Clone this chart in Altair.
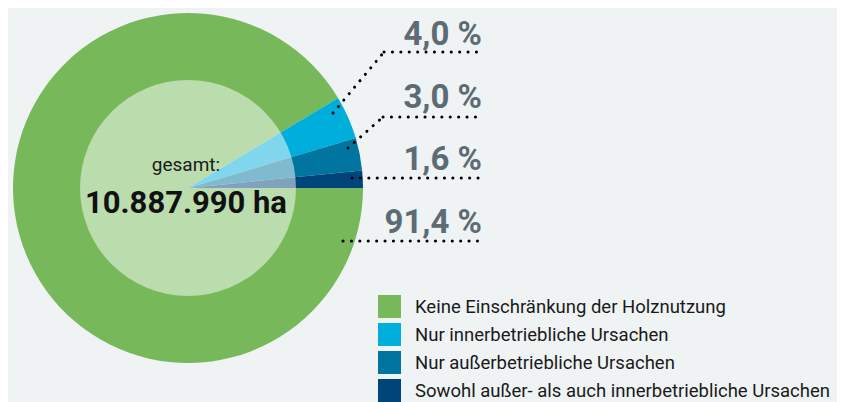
import altair as alt
import pandas as pd
import math

# ---- data ----
categories = [
    "Keine Einschränkung der Holznutzung",
    "Nur innerbetriebliche Ursachen",
    "Nur außerbetriebliche Ursachen",
    "Sowohl außer- als auch innerbetriebliche Ursachen",
]
shares = [91.4, 4.0, 3.0, 1.6]
colors = ["#77b85a", "#00aedb", "#00759f", "#00457a"]
total_label = "10.887.990 ha"
total_caption = "gesamt:"

# ---- layout (chart pixel coordinates) ----
W, H = 829, 394
CX, CY = 180, 180
R_OUT, R_IN = 175, 108
label_x = 474
label_baselines = [225, 37, 100, 162]          # for the shares, in order
# leader segments per share: list of (x, y, x2, y2)
leaders = [
    [(335, 233, 471, 233)],
    [(325, 105, 376, 44), (376, 44, 471, 44)],
    [(340, 140, 375, 109), (375, 109, 471, 109)],
    [(344, 170, 471, 170)],
]

def fmt(v):
    return f"{v:.1f}".replace(".", ",") + " %"

pie_df = pd.DataFrame({"cat": categories, "share": shares, "idx": range(len(shares))})
lab_df = pd.DataFrame({"txt": [fmt(v) for v in shares], "x": [label_x] * 4, "y": label_baselines})
seg_rows = []
for segs in leaders:
    for (a, b, c, d) in segs:
        seg_rows.append({"x": a, "y": b, "x2": c, "y2": d})
seg_df = pd.DataFrame(seg_rows)

xs = alt.Scale(domain=[0, W], range=[0, W])
ys = alt.Scale(domain=[0, H], range=[0, H])

pie = alt.Chart(pie_df).mark_arc(radius=R_OUT).encode(
    theta=alt.Theta("share:Q", stack=True, scale=alt.Scale(range=[math.pi / 2, math.pi / 2 + 2 * math.pi])),
    order=alt.Order("idx:Q"),
    color=alt.Color(
        "cat:N",
        scale=alt.Scale(domain=categories, range=colors),
        legend=alt.Legend(
            orient="none", legendX=370, legendY=287, title=None,
            symbolType="square", symbolSize=529, symbolStrokeWidth=0,
            labelFontSize=18.5, labelFont="Roboto", labelColor="#1a1a1a",
            labelLimit=0, rowPadding=5, labelOffset=14, padding=0,
        ),
    ),
    x=alt.value(CX),
    y=alt.value(CY),
)

inner = alt.Chart(pd.DataFrame({"a": [1]})).mark_arc(
    radius=R_IN, theta=0, theta2=2 * math.pi, color="white", opacity=0.5
).encode(x=alt.value(CX), y=alt.value(CY))

cap_txt = alt.Chart(pd.DataFrame({"t": [total_caption], "y": [163]})).mark_text(
    font="Roboto", color="#1a1a1a", baseline="alphabetic", align="center", fontSize=19
).encode(
    x=alt.value(178),
    y=alt.Y("y:Q", scale=ys, axis=None),
    text="t:N",
)
tot_txt = alt.Chart(pd.DataFrame({"t": [total_label], "y": [205]})).mark_text(
    font="Roboto", color="#111111", baseline="alphabetic", align="center", fontSize=31,
    fontWeight="bold"
).encode(
    x=alt.value(178),
    y=alt.Y("y:Q", scale=ys, axis=None),
    text="t:N",
)

rules = alt.Chart(seg_df).mark_rule(
    color="black", strokeWidth=3, strokeCap="round", strokeDash=[0.1, 8.3]
).encode(
    x=alt.X("x:Q", scale=xs, axis=None),
    y=alt.Y("y:Q", scale=ys, axis=None),
    x2="x2:Q",
    y2="y2:Q",
)

labels = alt.Chart(lab_df).mark_text(
    font="Roboto", fontWeight="bold", fontSize=33, color="#5d6b74",
    align="right", baseline="alphabetic"
).encode(
    x=alt.X("x:Q", scale=xs, axis=None),
    y=alt.Y("y:Q", scale=ys, axis=None),
    text="txt:N",
)

chart = alt.layer(pie, inner, cap_txt, tot_txt, rules, labels).properties(
    width=W, height=H, padding=0, autosize=alt.AutoSizeParams(type="none"),
    background="#eff3f4",
).configure_view(stroke=None)

chart.save("out.html", embed_options={"renderer": "svg", "actions": False})
